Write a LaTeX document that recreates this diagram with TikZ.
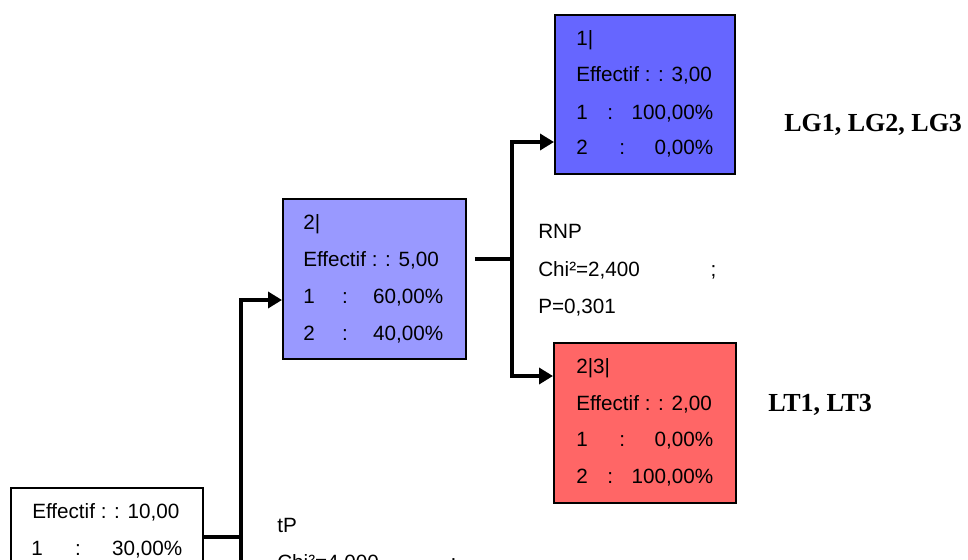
\documentclass[tikz,border=0pt]{standalone}
\usepackage{fontspec}
\setmainfont{Liberation Sans}
\newfontfamily\lbserif{Liberation Serif}
\usetikzlibrary{arrows.meta}
\definecolor{cbleu}{HTML}{6666FF}
\definecolor{cmauve}{HTML}{9999FF}
\definecolor{crouge}{HTML}{FF6666}
\tikzset{
  box/.style={draw=black, line width=1.6pt, inner sep=0pt, anchor=north west},
  ln/.style={anchor=base west, inner sep=0pt, font=\fontsize{15.5pt}{19pt}\selectfont},
  lnw/.style={ln, text width=#1},
  conn/.style={line width=2.6pt},
  arr/.style={conn, -{Triangle[length=10.5pt,width=12pt]}},
  grp/.style={anchor=base west, inner sep=0pt, font=\lbserif\bfseries\fontsize{19.5pt}{23pt}\selectfont}
}
\newcommand{\rowc}[3]{\makebox[#1][l]{#2}:\hfill #3}
\begin{document}
\begin{tikzpicture}[x=0.75pt, y=-0.75pt]
\useasboundingbox (0,0) rectangle (968,560);
\clip (0,0) rectangle (968,560);
% boxes
\node[box, fill=cbleu, minimum width=135pt, minimum height=119pt] (b1) at (554,14) {};
\node[box, fill=cmauve, minimum width=137pt, minimum height=120pt] (b2) at (282,198) {};
\node[box, fill=crouge, minimum width=136.5pt, minimum height=120pt] (b3) at (553,342) {};
\node[box, fill=white, minimum width=144pt, minimum height=120pt] (r) at (10,487) {};
% box 1 text
\node[ln] (b1l1) at (576,46) {1|};
\node[ln] (b1l2) at (576,82) {Effectif : : 3,00};
\node[lnw=102.75pt] (b1l3) at (576,119) {\rowc{23.25pt}{1}{100,00\%}};
\node[lnw=102.75pt] (b1l4) at (576,155) {\rowc{32.25pt}{2}{0,00\%}};
% box 2 text
\node[ln] (b2l1) at (303,229) {2|};
\node[ln] (b2l2) at (303,266) {Effectif : : 5,00};
\node[lnw=105pt] (b2l3) at (303,303) {\rowc{29.25pt}{1}{60,00\%}};
\node[lnw=105pt] (b2l4) at (303,340) {\rowc{29.25pt}{2}{40,00\%}};
% box 3 text
\node[ln] (b3l1) at (576,373) {2|3|};
\node[ln] (b3l2) at (576,410) {Effectif : : 2,00};
\node[lnw=102.75pt] (b3l3) at (576,446) {\rowc{32.25pt}{1}{0,00\%}};
\node[lnw=102.75pt] (b3l4) at (576,483) {\rowc{23.25pt}{2}{100,00\%}};
% root text
\node[ln] (rl2) at (32,518) {Effectif : : 10,00};
\node[lnw=113.25pt] (rl3) at (31,555) {\rowc{33pt}{1}{30,00\%}};
% split labels
\node[ln] (s1a) at (538,238) {RNP};
\node[lnw=133.5pt] (s1b) at (538,276) {Chi²=2,400\hfill;};
\node[ln] (s1c) at (538,313) {P=0,301};
\node[ln] (s0a) at (277,532) {tP};
\node[lnw=134.25pt] (s0b) at (277,569) {Chi²=4,000\hfill;};
% group labels
\node[grp] (g1) at (784,132) {LG1, LG2, LG3};
\node[grp] (g3) at (768,411) {LT1, LT3};
% connectors
\coordinate (j1) at (512,259);
\coordinate (t1) at (512,142);
\coordinate (t3) at (512,376);
\draw[conn] ([xshift=6pt]b2.east |- j1) -- (j1);
\draw[arr] (j1) -- (t1) -- (b1.west |- t1);
\draw[arr] (j1) -- (t3) -- (b3.west |- t3);
\coordinate (j0) at (241,537);
\coordinate (jb) at (241,620);
\coordinate (t2) at (241,300);
\draw[conn] (r.east |- j0) -- (j0);
\draw[arr] (jb) -- (t2) -- (b2.west |- t2);
\end{tikzpicture}
\end{document}
